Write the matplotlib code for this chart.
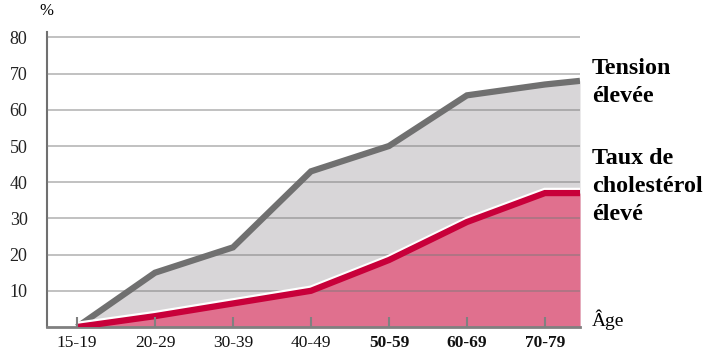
import matplotlib
matplotlib.use("Agg")
import matplotlib.pyplot as plt
import matplotlib.patheffects as pe
import numpy as np

age_groups = ["15-19", "20-29", "30-39", "40-49", "50-59", "60-69", "70-79"]
bold_groups = ["50-59", "60-69", "70-79"]
tension = [0, 15, 22, 43, 50, 64, 67]
tension_end = 68
cholesterol = [0, 3, 6.5, 10, 18.5, 29, 37]
cholesterol_end = 37
y_ticks = [10, 20, 30, 40, 50, 60, 70, 80]

plt.rcParams['font.family'] = ['Liberation Serif', 'DejaVu Serif']

fig = plt.figure(figsize=(7.08, 3.56), dpi=100)
ax = fig.add_axes([47/708, (356-327)/356, (580-47)/708, (327-32)/356])

x_end = 6.45
x = list(range(len(age_groups))) + [x_end]
t = tension + [tension_end]
c = cholesterol + [cholesterol_end]

ax.fill_between(x, 0, t, color='#d8d6d8', zorder=1, lw=0)
ax.fill_between(x, 0, c, color='#e0708e', zorder=2, lw=0)

for v in y_ticks:
    ax.axhline(v, color='#7a7a7a', alpha=0.55, lw=1.2, zorder=3)

ax.plot(x, t, color='#707070', lw=4.5, zorder=4, solid_joinstyle='miter', solid_capstyle='butt')
ax.plot(x, c, color='#c8003a', lw=4.5, zorder=5, solid_joinstyle='miter', solid_capstyle='butt',
        path_effects=[pe.Stroke(offset=(0, 1.6), linewidth=4.5, foreground='white'), pe.Normal()])

ax.set_xlim(-0.385, x_end)
ax.set_ylim(0, 81.5)

for s in ['top', 'right']:
    ax.spines[s].set_visible(False)
ax.spines['left'].set_color('#707070')
ax.spines['left'].set_linewidth(1.5)
ax.spines['bottom'].set_color('#808080')
ax.spines['bottom'].set_linewidth(2)
ax.set_axisbelow(False)
for a in (ax.xaxis, ax.yaxis):
    a.set_zorder(6)

ax.set_yticks(y_ticks)
ax.set_yticklabels([str(v) for v in y_ticks], fontsize=13, color='#222222')
ax.tick_params(axis='y', length=0, pad=14)

ax.set_xticks(range(len(age_groups)))
ax.set_xticklabels(age_groups, fontsize=12.5, color='#111111')
for lbl in ax.get_xticklabels():
    if lbl.get_text() in bold_groups:
        lbl.set_fontweight('bold')
ax.tick_params(axis='x', direction='in', length=7, width=1.5, color='#808080', pad=6)

fig.text(39/708, 1 - 11/356, '%', fontsize=12, ha='left', va='center')
fig.text(592/708, 1 - 320/356, 'Âge', fontsize=14, ha='left', va='center')
fig.text(592/708, 1 - 58/356, 'Tension\nélevée', fontsize=17.3, fontweight='bold',
         ha='left', va='top', linespacing=1.45)
fig.text(592/708, 1 - 148/356, 'Taux de\ncholestérol\nélevé', fontsize=17.3, fontweight='bold',
         ha='left', va='top', linespacing=1.45)

fig.savefig('out.png', dpi=100)
